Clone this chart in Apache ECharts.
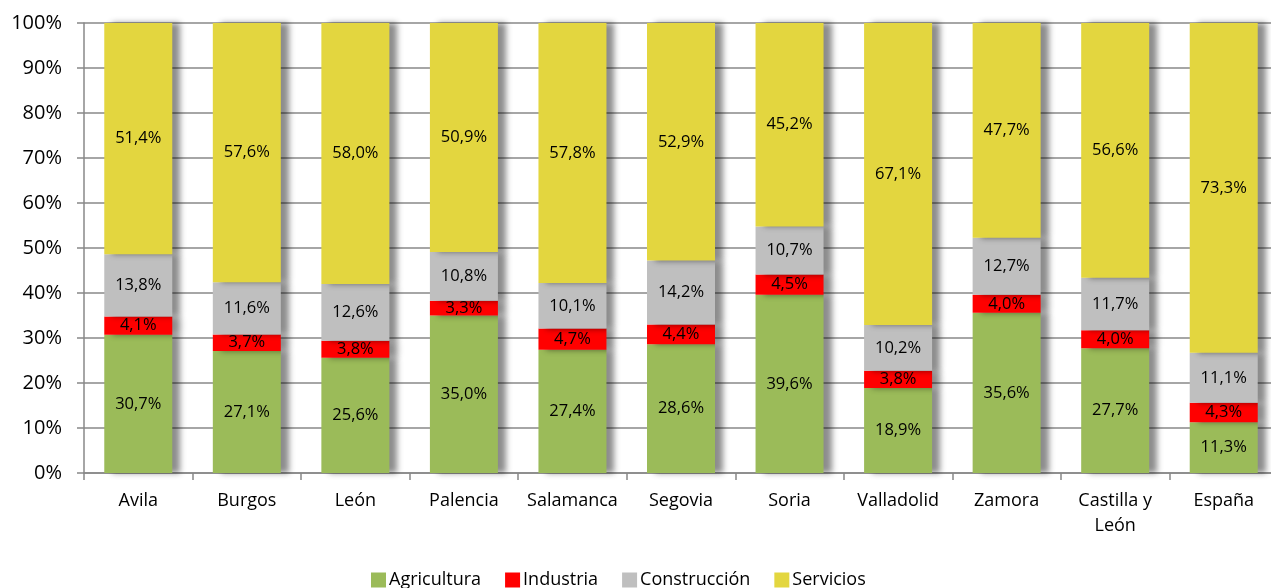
<!DOCTYPE html>
<html>
<head>
<meta charset="utf-8">
<script src="https://cdn.jsdelivr.net/npm/echarts@6/dist/echarts.min.js"></script>
<style>
  html, body { margin: 0; padding: 0; background: #fff; overflow: hidden; }
  #main { width: 1278px; height: 588px; }
</style>
</head>
<body>
<div id="main"></div>
<script>
// categorías (provincias)
const categorias = ['Avila', 'Burgos', 'León', 'Palencia', 'Salamanca', 'Segovia', 'Soria', 'Valladolid', 'Zamora', 'Castilla y\nLeón', 'España'];
// porcentajes por sector
const agricultura = [30.7, 27.1, 25.6, 35.0, 27.4, 28.6, 39.6, 18.9, 35.6, 27.7, 11.3];
const industria = [4.1, 3.7, 3.8, 3.3, 4.7, 4.4, 4.5, 3.8, 4.0, 4.0, 4.3];
const construccion = [13.8, 11.6, 12.6, 10.8, 10.1, 14.2, 10.7, 10.2, 12.7, 11.7, 11.1];
const servicios = [51.4, 57.6, 58.0, 50.9, 57.8, 52.9, 45.2, 67.1, 47.7, 56.6, 73.3];

const fuente = '"Open Sans", sans-serif';

function serie(nombre, datos, color) {
  return {
    name: nombre,
    type: 'bar',
    stack: 'total',
    barWidth: 68,
    data: datos,
    itemStyle: {
      color: color,
      shadowColor: 'rgba(0,0,0,0.45)',
      shadowBlur: 6,
      shadowOffsetX: 8
    },
    label: {
      show: true,
      position: 'inside',
      color: '#000',
      fontFamily: fuente,
      fontSize: 16.5,
      formatter: p => p.value.toFixed(1).replace('.', ',') + '%'
    }
  };
}

// el contenedor es un poco más ancho que la ventana: el área del gráfico se sale por la derecha
const myChart = echarts.init(document.getElementById('main'));
const option = {
  animation: false,
  textStyle: { fontFamily: fuente },
  grid: { left: 84, top: 23, right: 0, bottom: 115 },
  legend: {
    bottom: -6,
    left: 366,
    itemWidth: 15,
    itemHeight: 15,
    itemGap: 24,
    icon: 'rect',
    textStyle: { fontFamily: fuente, fontSize: 18, color: '#000', padding: [0, 0, 0, -2] },
    data: ['Agricultura', 'Industria', 'Construcción', 'Servicios']
  },
  xAxis: {
    type: 'category',
    data: categorias,
    axisLine: { lineStyle: { color: '#888', width: 1.5 } },
    axisTick: { show: true, length: 7, lineStyle: { color: '#888', width: 1.5 } },
    axisLabel: { interval: 0, color: '#000', fontSize: 18, fontFamily: fuente, margin: 15, lineHeight: 25 }
  },
  yAxis: {
    type: 'value',
    min: 0,
    max: 100,
    interval: 10,
    axisLine: { show: true, lineStyle: { color: '#888', width: 1.5 } },
    axisTick: { show: true, length: 7, lineStyle: { color: '#888', width: 1.5 } },
    splitLine: { lineStyle: { color: '#888', width: 1.5 } },
    axisLabel: { color: '#000', fontSize: 20, fontFamily: fuente, margin: 22, formatter: '{value}%' }
  },
  series: [
    serie('Agricultura', agricultura, '#9BBB59'),
    serie('Industria', industria, '#FF0000'),
    serie('Construcción', construccion, '#BFBFBF'),
    serie('Servicios', servicios, '#E3D63F')
  ]
};
myChart.setOption(option);
</script>
</body>
</html>
